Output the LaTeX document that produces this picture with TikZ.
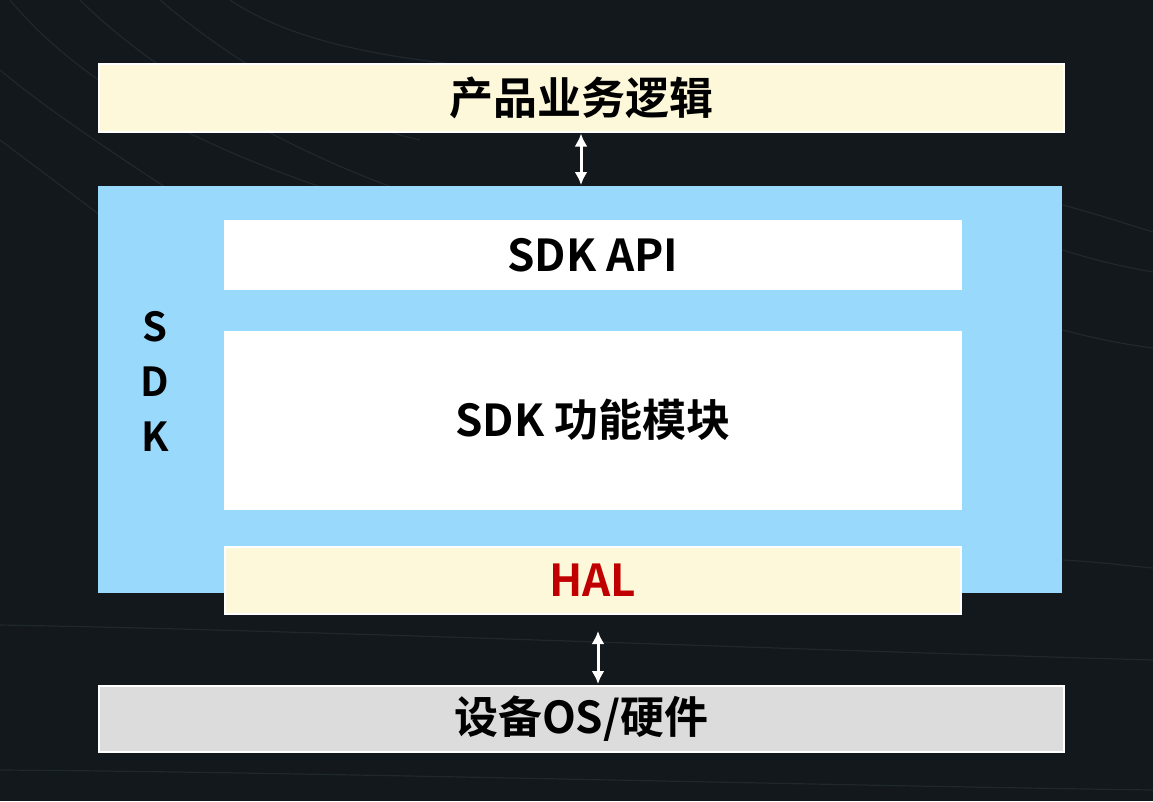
\documentclass[tikz,border=0pt]{standalone}
\usepackage{fontspec}
\setmainfont{Noto Sans CJK SC}[BoldFont={* Bold}]
\usetikzlibrary{arrows.meta}
\definecolor{bg}{HTML}{12181C}
\definecolor{bgline}{HTML}{20282E}
\definecolor{cream}{HTML}{FDF8D9}
\definecolor{sky}{HTML}{99D9FC}
\definecolor{grayb}{HTML}{DCDCDC}
\definecolor{halred}{HTML}{C00000}
\tikzset{
  px/.style={x=1pt,y=-1pt},
  layer/.style={draw=white,line width=1.5pt,inner sep=0pt,font=\bfseries\fontsize{44}{48}\selectfont,text=black},
  inner/.style={layer,fill=white},
  dbl/.style={white,line width=3pt,{Latex[length=13pt,width=13pt]}-{Latex[length=13pt,width=13pt]},shorten <=1pt,shorten >=1pt},
  bgcurve/.style={draw=bgline,line width=1.2pt},
}
\begin{document}
\begin{tikzpicture}[px]
\fill[bg] (0,0) rectangle (1153,801);
\useasboundingbox (0,0) rectangle (1153,801);
% faint background texture
\draw[bgcurve] (10,0) .. controls (60,60) and (150,130) .. (330,190);
\draw[bgcurve] (80,0) .. controls (140,60) and (260,140) .. (400,190);
\draw[bgcurve] (160,0) .. controls (230,60) and (330,120) .. (420,140);
\draw[bgcurve] (230,0) .. controls (290,40) and (380,60) .. (520,70);
\draw[bgcurve] (0,70) .. controls (60,120) and (140,170) .. (230,230);
\draw[bgcurve] (0,140) .. controls (40,170) and (80,200) .. (100,215);
\draw[bgcurve] (1063,205) .. controls (1100,215) and (1130,225) .. (1153,232);
\draw[bgcurve] (1063,250) .. controls (1100,262) and (1130,268) .. (1153,272);
\draw[bgcurve] (1063,330) .. controls (1100,340) and (1130,345) .. (1153,348);
\draw[bgcurve] (1063,560) .. controls (1100,562) and (1130,566) .. (1153,568);
\draw[bgcurve] (0,625) .. controls (300,630) and (800,650) .. (1153,660);
\draw[bgcurve] (0,770) .. controls (300,772) and (800,785) .. (1153,790);
% boxes
\node[layer,fill=cream,minimum width=965pt,minimum height=68pt,anchor=north west] (top) at (98,63) {产品业务逻辑};
\node[draw=none,fill=sky,minimum width=964pt,minimum height=407pt,inner sep=0pt,anchor=north west] (sdk) at (98,186) {};
\node[font=\bfseries\fontsize{40}{55}\selectfont,text=black,align=center,inner sep=0pt] (sdklbl) at (155,381) {S\\D\\K};
\node[inner,minimum width=736pt,minimum height=68pt,anchor=north west] (api) at (224,220) {SDK API};
\node[inner,minimum width=736pt,minimum height=177pt,anchor=north west] (func) at (224,331) {SDK 功能模块};
\node[layer,fill=cream,text=halred,minimum width=736pt,minimum height=67pt,anchor=north west] (hal) at (224,546) {HAL};
\node[layer,fill=grayb,minimum width=965pt,minimum height=66pt,anchor=north west] (dev) at (98,685) {设备OS/硬件};
% arrows
\draw[dbl] (top.south -| 581,0) -- (sdk.north -| 581,0);
\coordinate (halb) at (598,630);
\draw[dbl] (halb) -- (dev.north -| 598,0);
\end{tikzpicture}
\end{document}
